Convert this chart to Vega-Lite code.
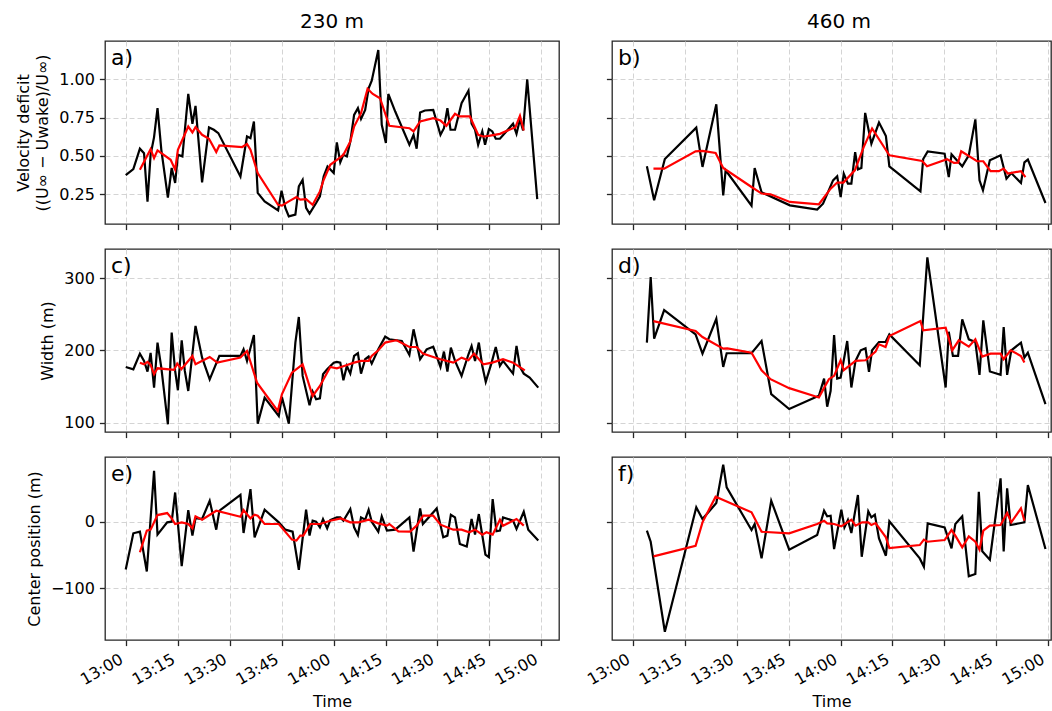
{
"$schema": "https://vega.github.io/schema/vega-lite/v6.json",
"padding": {"left": 15, "top": 12, "right": 0, "bottom": 0},
"background": "white",
"datasets": {
"a_raw": [{"t":779.8,"v":0.374},{"t":782.0,"v":0.413},{"t":783.9,"v":0.546},{"t":785.1,"v":0.517},{"t":786.1,"v":0.200},{"t":787.0,"v":0.507},{"t":788.0,"v":0.622},{"t":789.0,"v":0.811},{"t":790.1,"v":0.539},{"t":792.0,"v":0.226},{"t":793.1,"v":0.420},{"t":794.1,"v":0.322},{"t":794.9,"v":0.507},{"t":796.2,"v":0.496},{"t":797.9,"v":0.904},{"t":799.1,"v":0.709},{"t":800.0,"v":0.826},{"t":801.9,"v":0.326},{"t":803.9,"v":0.685},{"t":805.3,"v":0.670},{"t":806.6,"v":0.648},{"t":813.0,"v":0.365},{"t":814.9,"v":0.626},{"t":815.9,"v":0.615},{"t":816.9,"v":0.724},{"t":818.0,"v":0.257},{"t":820.0,"v":0.202},{"t":823.9,"v":0.143},{"t":824.9,"v":0.272},{"t":826.0,"v":0.159},{"t":827.0,"v":0.104},{"t":828.9,"v":0.115},{"t":829.9,"v":0.300},{"t":831.0,"v":0.343},{"t":832.0,"v":0.159},{"t":833.0,"v":0.122},{"t":834.9,"v":0.191},{"t":836.0,"v":0.235},{"t":837.1,"v":0.365},{"t":838.2,"v":0.430},{"t":840.0,"v":0.387},{"t":840.9,"v":0.587},{"t":841.9,"v":0.457},{"t":842.8,"v":0.507},{"t":843.8,"v":0.496},{"t":844.8,"v":0.593},{"t":845.9,"v":0.767},{"t":847.0,"v":0.811},{"t":847.9,"v":0.741},{"t":849.1,"v":0.800},{"t":850.1,"v":0.941},{"t":851.0,"v":0.991},{"t":852.9,"v":1.191},{"t":853.9,"v":0.702},{"t":855.1,"v":0.583},{"t":855.8,"v":0.904},{"t":857.8,"v":0.789},{"t":861.9,"v":0.572},{"t":863.1,"v":0.637},{"t":864.0,"v":0.546},{"t":865.0,"v":0.783},{"t":866.4,"v":0.796},{"t":868.8,"v":0.800},{"t":870.9,"v":0.637},{"t":871.9,"v":0.680},{"t":872.9,"v":0.811},{"t":873.8,"v":0.670},{"t":875.1,"v":0.670},{"t":877.0,"v":0.843},{"t":879.0,"v":0.926},{"t":879.9,"v":0.709},{"t":880.9,"v":0.670},{"t":881.8,"v":0.572},{"t":883.0,"v":0.659},{"t":883.8,"v":0.572},{"t":884.9,"v":0.674},{"t":885.9,"v":0.659},{"t":886.9,"v":0.611},{"t":888.1,"v":0.611},{"t":891.9,"v":0.709},{"t":892.9,"v":0.643},{"t":893.9,"v":0.739},{"t":894.8,"v":0.665},{"t":896.0,"v":1.000},{"t":898.9,"v":0.217}],
"a_mean": [{"t":783.9,"v":0.409},{"t":787.0,"v":0.543},{"t":788.0,"v":0.485},{"t":789.0,"v":0.535},{"t":792.8,"v":0.474},{"t":794.1,"v":0.409},{"t":794.9,"v":0.539},{"t":797.9,"v":0.691},{"t":799.1,"v":0.652},{"t":800.0,"v":0.687},{"t":801.9,"v":0.637},{"t":803.9,"v":0.611},{"t":806.0,"v":0.524},{"t":806.9,"v":0.567},{"t":813.5,"v":0.557},{"t":814.9,"v":0.576},{"t":815.9,"v":0.539},{"t":818.0,"v":0.387},{"t":823.9,"v":0.180},{"t":825.0,"v":0.174},{"t":827.0,"v":0.202},{"t":829.2,"v":0.230},{"t":830.3,"v":0.213},{"t":832.0,"v":0.217},{"t":833.9,"v":0.180},{"t":836.0,"v":0.267},{"t":837.1,"v":0.343},{"t":839.0,"v":0.441},{"t":841.9,"v":0.489},{"t":842.8,"v":0.507},{"t":844.8,"v":0.593},{"t":845.9,"v":0.691},{"t":847.9,"v":0.778},{"t":849.8,"v":0.937},{"t":851.3,"v":0.904},{"t":853.4,"v":0.876},{"t":856.1,"v":0.696},{"t":861.9,"v":0.680},{"t":863.1,"v":0.659},{"t":865.0,"v":0.724},{"t":868.8,"v":0.746},{"t":870.9,"v":0.730},{"t":872.6,"v":0.696},{"t":875.1,"v":0.774},{"t":876.3,"v":0.757},{"t":879.4,"v":0.757},{"t":881.8,"v":0.637},{"t":883.3,"v":0.626},{"t":884.9,"v":0.630},{"t":888.1,"v":0.643},{"t":892.6,"v":0.687},{"t":893.9,"v":0.761},{"t":895.0,"v":0.665}],
"b_raw": [{"t":783.9,"v":0.431},{"t":786.0,"v":0.209},{"t":789.1,"v":0.479},{"t":798.2,"v":0.684},{"t":800.0,"v":0.427},{"t":804.0,"v":0.836},{"t":806.0,"v":0.241},{"t":806.7,"v":0.405},{"t":814.2,"v":0.174},{"t":815.1,"v":0.420},{"t":817.1,"v":0.261},{"t":825.3,"v":0.176},{"t":833.2,"v":0.148},{"t":834.9,"v":0.187},{"t":837.8,"v":0.339},{"t":839.0,"v":0.366},{"t":840.0,"v":0.230},{"t":840.9,"v":0.383},{"t":842.1,"v":0.318},{"t":843.1,"v":0.318},{"t":844.2,"v":0.523},{"t":845.0,"v":0.411},{"t":846.0,"v":0.420},{"t":847.1,"v":0.780},{"t":848.9,"v":0.579},{"t":851.1,"v":0.717},{"t":853.1,"v":0.629},{"t":854.1,"v":0.431},{"t":863.1,"v":0.267},{"t":863.9,"v":0.479},{"t":865.2,"v":0.529},{"t":870.1,"v":0.514},{"t":871.3,"v":0.361},{"t":872.1,"v":0.510},{"t":875.2,"v":0.431},{"t":877.1,"v":0.503},{"t":879.0,"v":0.738},{"t":880.2,"v":0.339},{"t":881.2,"v":0.274},{"t":883.2,"v":0.470},{"t":886.3,"v":0.503},{"t":888.0,"v":0.350},{"t":889.4,"v":0.387},{"t":892.2,"v":0.322},{"t":893.2,"v":0.457},{"t":894.2,"v":0.475},{"t":899.3,"v":0.191}],
"b_mean": [{"t":785.8,"v":0.416},{"t":788.9,"v":0.416},{"t":798.0,"v":0.529},{"t":800.0,"v":0.532},{"t":803.8,"v":0.518},{"t":806.0,"v":0.420},{"t":814.2,"v":0.296},{"t":817.1,"v":0.253},{"t":819.7,"v":0.248},{"t":825.3,"v":0.198},{"t":833.7,"v":0.183},{"t":837.1,"v":0.285},{"t":839.0,"v":0.325},{"t":840.8,"v":0.325},{"t":844.1,"v":0.405},{"t":846.7,"v":0.558},{"t":849.1,"v":0.678},{"t":854.1,"v":0.503},{"t":863.6,"v":0.466},{"t":865.0,"v":0.431},{"t":870.8,"v":0.477},{"t":872.8,"v":0.453},{"t":874.0,"v":0.455},{"t":874.9,"v":0.529},{"t":879.5,"v":0.464},{"t":881.3,"v":0.464},{"t":883.4,"v":0.399},{"t":885.8,"v":0.399},{"t":887.2,"v":0.416},{"t":888.4,"v":0.384},{"t":892.2,"v":0.399},{"t":893.5,"v":0.360}],
"c_raw": [{"t":779.8,"v":177.1},{"t":782.0,"v":173.9},{"t":783.9,"v":195.6},{"t":785.1,"v":185.5},{"t":786.1,"v":170.7},{"t":787.0,"v":196.5},{"t":788.0,"v":148.5},{"t":789.0,"v":210.9},{"t":790.1,"v":176.2},{"t":792.0,"v":97.7},{"t":793.1,"v":224.7},{"t":794.1,"v":171.6},{"t":794.9,"v":144.8},{"t":796.0,"v":214.1},{"t":796.9,"v":171.6},{"t":797.9,"v":143.9},{"t":800.0,"v":233.9},{"t":801.9,"v":190.1},{"t":804.1,"v":160.0},{"t":806.9,"v":192.4},{"t":813.0,"v":192.4},{"t":813.9,"v":201.6},{"t":814.9,"v":185.5},{"t":816.9,"v":221.5},{"t":818.0,"v":98.6},{"t":820.0,"v":134.6},{"t":824.1,"v":109.2},{"t":825.0,"v":135.6},{"t":827.0,"v":98.6},{"t":828.9,"v":210.9},{"t":829.9,"v":246.4},{"t":831.0,"v":164.7},{"t":833.0,"v":124.0},{"t":833.9,"v":142.9},{"t":834.9,"v":132.3},{"t":836.0,"v":133.7},{"t":836.9,"v":167.0},{"t":838.1,"v":173.9},{"t":840.0,"v":183.1},{"t":840.9,"v":184.1},{"t":841.9,"v":183.1},{"t":842.8,"v":158.7},{"t":843.8,"v":178.5},{"t":844.8,"v":167.9},{"t":845.9,"v":192.4},{"t":847.0,"v":196.1},{"t":847.9,"v":167.9},{"t":849.1,"v":187.8},{"t":850.1,"v":191.5},{"t":851.0,"v":181.8},{"t":852.9,"v":201.6},{"t":854.9,"v":219.2},{"t":856.1,"v":215.5},{"t":859.7,"v":213.2},{"t":861.9,"v":193.8},{"t":863.1,"v":229.3},{"t":865.0,"v":187.8},{"t":866.9,"v":201.6},{"t":868.8,"v":205.3},{"t":870.9,"v":177.1},{"t":871.9,"v":198.4},{"t":872.9,"v":170.7},{"t":873.9,"v":203.9},{"t":875.1,"v":185.5},{"t":877.0,"v":164.7},{"t":879.0,"v":194.7},{"t":879.9,"v":206.2},{"t":880.9,"v":185.5},{"t":882.0,"v":210.9},{"t":883.0,"v":178.5},{"t":884.0,"v":156.4},{"t":885.7,"v":183.1},{"t":886.9,"v":204.8},{"t":888.1,"v":178.5},{"t":889.0,"v":185.5},{"t":891.9,"v":167.9},{"t":892.9,"v":206.2},{"t":893.9,"v":177.1},{"t":895.0,"v":167.9},{"t":896.7,"v":162.4},{"t":899.2,"v":148.5}],
"c_mean": [{"t":783.9,"v":183.1},{"t":785.1,"v":180.8},{"t":786.1,"v":184.1},{"t":787.0,"v":179.9},{"t":788.0,"v":167.0},{"t":789.0,"v":175.3},{"t":793.8,"v":173.0},{"t":794.7,"v":181.8},{"t":795.9,"v":173.9},{"t":799.1,"v":192.4},{"t":800.0,"v":180.8},{"t":804.1,"v":191.0},{"t":806.3,"v":183.1},{"t":813.0,"v":190.1},{"t":814.9,"v":199.3},{"t":817.8,"v":155.4},{"t":823.8,"v":116.2},{"t":825.0,"v":139.3},{"t":827.9,"v":169.3},{"t":831.0,"v":180.8},{"t":833.9,"v":136.9},{"t":836.0,"v":150.8},{"t":839.0,"v":177.1},{"t":840.9,"v":175.3},{"t":843.0,"v":178.5},{"t":845.9,"v":183.1},{"t":847.9,"v":185.5},{"t":850.1,"v":185.5},{"t":851.0,"v":192.4},{"t":852.9,"v":200.2},{"t":854.9,"v":210.9},{"t":856.1,"v":212.2},{"t":858.2,"v":214.1},{"t":861.9,"v":204.8},{"t":864.0,"v":204.8},{"t":865.8,"v":195.6},{"t":868.8,"v":191.0},{"t":870.9,"v":187.8},{"t":874.6,"v":183.1},{"t":877.0,"v":190.1},{"t":879.0,"v":186.4},{"t":880.6,"v":195.6},{"t":883.3,"v":180.8},{"t":885.9,"v":183.1},{"t":889.0,"v":187.8},{"t":891.9,"v":183.1},{"t":895.3,"v":172.5}],
"d_raw": [{"t":783.9,"v":210.8},{"t":785.0,"v":301.8},{"t":786.0,"v":216.3},{"t":788.9,"v":255.9},{"t":798.0,"v":222.3},{"t":800.0,"v":195.6},{"t":804.0,"v":243.9},{"t":806.0,"v":177.2},{"t":807.0,"v":196.1},{"t":814.2,"v":196.1},{"t":817.1,"v":213.1},{"t":819.9,"v":139.5},{"t":825.1,"v":118.8},{"t":833.7,"v":137.2},{"t":835.2,"v":161.1},{"t":836.1,"v":122.0},{"t":837.1,"v":144.1},{"t":838.1,"v":221.4},{"t":839.0,"v":161.1},{"t":840.0,"v":162.5},{"t":841.9,"v":213.1},{"t":843.1,"v":148.7},{"t":844.3,"v":185.5},{"t":845.8,"v":200.2},{"t":847.2,"v":203.0},{"t":848.2,"v":170.3},{"t":849.1,"v":200.2},{"t":851.1,"v":211.7},{"t":853.0,"v":211.7},{"t":854.1,"v":222.3},{"t":862.9,"v":179.5},{"t":865.1,"v":329.0},{"t":870.4,"v":148.7},{"t":871.3,"v":226.0},{"t":872.5,"v":192.4},{"t":874.0,"v":192.4},{"t":875.2,"v":243.0},{"t":877.1,"v":215.4},{"t":879.0,"v":211.7},{"t":880.2,"v":166.2},{"t":881.3,"v":241.6},{"t":883.2,"v":170.8},{"t":886.3,"v":166.2},{"t":887.2,"v":232.4},{"t":888.2,"v":166.2},{"t":889.4,"v":200.2},{"t":892.2,"v":210.8},{"t":893.2,"v":190.1},{"t":894.2,"v":197.0},{"t":899.3,"v":125.7}],
"d_mean": [{"t":785.8,"v":240.7},{"t":798.0,"v":226.9},{"t":800.0,"v":218.6},{"t":806.0,"v":202.5},{"t":807.2,"v":203.0},{"t":814.2,"v":197.0},{"t":817.1,"v":172.6},{"t":819.7,"v":160.2},{"t":825.1,"v":147.8},{"t":833.7,"v":134.9},{"t":835.0,"v":146.4},{"t":836.6,"v":160.2},{"t":838.1,"v":164.8},{"t":840.0,"v":186.4},{"t":840.9,"v":172.6},{"t":844.3,"v":185.5},{"t":847.2,"v":186.4},{"t":850.1,"v":198.4},{"t":851.1,"v":208.5},{"t":853.0,"v":204.8},{"t":854.1,"v":220.0},{"t":863.1,"v":240.7},{"t":863.9,"v":227.8},{"t":870.4,"v":231.5},{"t":872.3,"v":200.2},{"t":874.2,"v":214.0},{"t":877.1,"v":205.3},{"t":879.0,"v":215.4},{"t":881.0,"v":191.5},{"t":883.4,"v":195.6},{"t":886.3,"v":195.6},{"t":887.2,"v":187.8},{"t":889.2,"v":200.2},{"t":892.2,"v":192.4},{"t":893.2,"v":183.2}],
"e_raw": [{"t":779.8,"v":-72},{"t":782.0,"v":-17.5},{"t":783.9,"v":-15},{"t":785.9,"v":-75},{"t":788.0,"v":76.5},{"t":789.0,"v":-19.5},{"t":791.8,"v":-1},{"t":793.1,"v":0},{"t":794.1,"v":44},{"t":796.0,"v":-67},{"t":797.9,"v":17.5},{"t":799.1,"v":-21},{"t":800.0,"v":5.5},{"t":801.9,"v":4},{"t":804.1,"v":31.5},{"t":806.0,"v":-12},{"t":806.9,"v":16.5},{"t":813.0,"v":40.5},{"t":813.9,"v":-17},{"t":815.9,"v":49},{"t":817.1,"v":-23.5},{"t":820.0,"v":18},{"t":824.1,"v":-1},{"t":826.0,"v":-12},{"t":828.1,"v":-15},{"t":829.9,"v":-72.5},{"t":832.0,"v":18},{"t":833.0,"v":-21},{"t":833.9,"v":1.5},{"t":834.9,"v":0},{"t":836.0,"v":-8.5},{"t":836.9,"v":4},{"t":838.1,"v":-10},{"t":839.0,"v":2.5},{"t":840.9,"v":6.5},{"t":841.9,"v":6.5},{"t":842.8,"v":1.5},{"t":844.8,"v":19},{"t":845.9,"v":-8.5},{"t":847.0,"v":-20},{"t":847.9,"v":6.5},{"t":849.1,"v":3},{"t":850.1,"v":18},{"t":851.0,"v":0},{"t":852.9,"v":-15},{"t":853.9,"v":8},{"t":855.4,"v":-13.5},{"t":857.8,"v":-12},{"t":861.9,"v":6.5},{"t":863.1,"v":-45},{"t":865.0,"v":20},{"t":865.8,"v":-3.5},{"t":869.8,"v":20},{"t":871.7,"v":-23.5},{"t":872.9,"v":-21},{"t":873.9,"v":10.5},{"t":875.1,"v":6.5},{"t":876.5,"v":-33.5},{"t":878.5,"v":-37.5},{"t":879.9,"v":4},{"t":880.9,"v":-19.5},{"t":882.0,"v":11.5},{"t":883.9,"v":-49.5},{"t":884.9,"v":-53.5},{"t":886.0,"v":34},{"t":887.1,"v":-14.5},{"t":888.1,"v":-13.5},{"t":889.0,"v":6.5},{"t":891.9,"v":1.5},{"t":892.9,"v":-11},{"t":895.0,"v":15},{"t":896.3,"v":-12},{"t":899.2,"v":-28.5}],
"e_mean": [{"t":783.9,"v":-46},{"t":785.9,"v":-13.5},{"t":787.0,"v":-12},{"t":789.0,"v":10},{"t":791.8,"v":13},{"t":793.1,"v":5},{"t":794.1,"v":-3.5},{"t":796.0,"v":-1},{"t":797.9,"v":-3.5},{"t":799.1,"v":-10},{"t":800.0,"v":8},{"t":801.9,"v":3},{"t":806.0,"v":16.5},{"t":813.0,"v":7.5},{"t":813.9,"v":17.5},{"t":815.9,"v":5},{"t":817.1,"v":10.5},{"t":818.0,"v":9},{"t":820.0,"v":-3.5},{"t":824.1,"v":-3.5},{"t":827.9,"v":-27},{"t":829.2,"v":-28.5},{"t":830.3,"v":-21},{"t":831.2,"v":-21},{"t":833.2,"v":-3.5},{"t":836.0,"v":-3.5},{"t":839.0,"v":1.5},{"t":842.1,"v":5},{"t":844.8,"v":-1},{"t":847.2,"v":-1},{"t":850.1,"v":3},{"t":852.9,"v":-2.5},{"t":855.4,"v":-6},{"t":856.1,"v":-3.5},{"t":858.7,"v":-14.5},{"t":862.1,"v":-15},{"t":864.0,"v":-6},{"t":865.9,"v":9},{"t":868.8,"v":9},{"t":870.9,"v":-4.5},{"t":874.6,"v":-12},{"t":877.0,"v":-12},{"t":879.2,"v":-16},{"t":880.9,"v":-12},{"t":883.0,"v":-19.5},{"t":884.2,"v":-16},{"t":886.0,"v":-19.5},{"t":888.1,"v":3},{"t":889.0,"v":-6},{"t":892.9,"v":4},{"t":895.0,"v":-6}],
"f_raw": [{"t":783.9,"v":-13.6},{"t":785.0,"v":-30.2},{"t":789.1,"v":-165.8},{"t":798.2,"v":21.6},{"t":800.0,"v":4.0},{"t":804.0,"v":28.1},{"t":806.0,"v":85.9},{"t":807.0,"v":51.8},{"t":814.2,"v":-12.6},{"t":815.1,"v":-3.5},{"t":817.1,"v":-55.3},{"t":819.9,"v":31.7},{"t":825.1,"v":-42.2},{"t":833.2,"v":-20.1},{"t":835.2,"v":16.6},{"t":836.1,"v":8.0},{"t":837.1,"v":9.0},{"t":838.1,"v":-41.2},{"t":840.2,"v":18.1},{"t":841.1,"v":-8.5},{"t":842.1,"v":2.5},{"t":843.1,"v":-17.1},{"t":845.0,"v":40.2},{"t":846.1,"v":-52.8},{"t":848.0,"v":15.6},{"t":848.9,"v":6.5},{"t":849.9,"v":10.6},{"t":851.1,"v":-25.1},{"t":853.1,"v":-51.3},{"t":854.1,"v":0.5},{"t":862.9,"v":-55.3},{"t":864.1,"v":-67.8},{"t":865.2,"v":-2.5},{"t":870.1,"v":-8.5},{"t":872.1,"v":-40.2},{"t":873.2,"v":-3.5},{"t":875.2,"v":8.0},{"t":877.1,"v":-82.4},{"t":879.0,"v":-78.9},{"t":880.0,"v":45.2},{"t":881.0,"v":-44.7},{"t":883.2,"v":-57.3},{"t":886.3,"v":65.3},{"t":887.2,"v":-44.7},{"t":888.2,"v":50.3},{"t":889.2,"v":-5.0},{"t":892.2,"v":-2.0},{"t":893.2,"v":-1.0},{"t":894.2,"v":55.3},{"t":899.3,"v":-41.2}],
"f_mean": [{"t":785.8,"v":-52.3},{"t":798.0,"v":-36.2},{"t":800.0,"v":-1.0},{"t":803.8,"v":37.7},{"t":806.0,"v":32.7},{"t":814.2,"v":14.1},{"t":817.1,"v":-15.1},{"t":825.1,"v":-17.6},{"t":833.2,"v":-3.5},{"t":835.2,"v":1.5},{"t":836.1,"v":-2.5},{"t":838.1,"v":-3.5},{"t":840.2,"v":-7.0},{"t":841.9,"v":-1.0},{"t":843.1,"v":3.0},{"t":844.3,"v":-6.0},{"t":846.2,"v":-1.0},{"t":848.0,"v":-1.0},{"t":848.9,"v":-5.0},{"t":850.1,"v":-2.0},{"t":853.1,"v":-23.6},{"t":854.1,"v":-39.7},{"t":862.9,"v":-35.2},{"t":864.1,"v":-27.1},{"t":865.1,"v":-30.2},{"t":870.1,"v":-27.6},{"t":872.1,"v":-12.6},{"t":873.2,"v":-21.1},{"t":875.2,"v":-38.7},{"t":877.1,"v":-22.1},{"t":879.0,"v":-30.2},{"t":880.2,"v":-42.2},{"t":881.3,"v":-13.6},{"t":883.2,"v":-6.0},{"t":886.3,"v":-5.0},{"t":888.2,"v":13.1},{"t":889.4,"v":-1.0},{"t":892.2,"v":20.1},{"t":893.2,"v":1.5}]
},
"hconcat": [
{"title": {"text": "230 m", "anchor": "middle", "frame": "group", "offset": -8, "dx": 227, "baseline": "alphabetic"},
 "spacing": 17,
 "vconcat": [
  {"width": 454, "height": 183, "layer": [
   {"data": {"name": "a_raw"}, "mark": {"type": "line", "color": "#000000", "strokeWidth": 2.2},
    "encoding": {"x": {"field": "t", "type": "quantitative", "scale": {"domain": [773.8, 905.2], "nice": false, "zero": false}, "axis": {"values": [780,795,810,825,840,855,870,885,900], "labels": false, "title": null}},
                 "y": {"field": "v", "type": "quantitative", "scale": {"domain": [0.054, 1.25], "nice": false, "zero": false}, "axis": {"values": [0.25,0.5,0.75,1.0], "format": ".2f", "title": ["Velocity deficit", "((U∞ − Uwake)/U∞)"]}}}},
   {"data": {"name": "a_mean"}, "mark": {"type": "line", "color": "#ff0000", "strokeWidth": 2.2},
    "encoding": {"x": {"field": "t", "type": "quantitative", "scale": {"domain": [773.8, 905.2], "nice": false, "zero": false}, "axis": {"values": [780,795,810,825,840,855,870,885,900], "labels": false, "title": null}},
                 "y": {"field": "v", "type": "quantitative", "scale": {"domain": [0.054, 1.25], "nice": false, "zero": false}, "axis": {"values": [0.25,0.5,0.75,1.0], "format": ".2f", "title": ["Velocity deficit", "((U∞ − Uwake)/U∞)"]}}}},
   {"data": {"values": [{"label": "a)"}]}, "mark": {"type": "text", "align": "left", "baseline": "alphabetic", "dx": 6, "dy": 24, "fontSize": 22, "color": "#000000"},
    "encoding": {"text": {"field": "label"}, "x": {"datum": 773.8, "type": "quantitative"}, "y": {"datum": 1.25, "type": "quantitative"}}}
  ]},
  {"width": 454, "height": 183, "layer": [
   {"data": {"name": "c_raw"}, "mark": {"type": "line", "color": "#000000", "strokeWidth": 2.2},
    "encoding": {"x": {"field": "t", "type": "quantitative", "scale": {"domain": [773.8, 905.2], "nice": false, "zero": false}, "axis": {"values": [780,795,810,825,840,855,870,885,900], "labels": false, "title": null}},
                 "y": {"field": "v", "type": "quantitative", "scale": {"domain": [87, 340.6], "nice": false, "zero": false}, "axis": {"values": [100,200,300], "title": "Width (m)"}}}},
   {"data": {"name": "c_mean"}, "mark": {"type": "line", "color": "#ff0000", "strokeWidth": 2.2},
    "encoding": {"x": {"field": "t", "type": "quantitative", "scale": {"domain": [773.8, 905.2], "nice": false, "zero": false}, "axis": {"values": [780,795,810,825,840,855,870,885,900], "labels": false, "title": null}},
                 "y": {"field": "v", "type": "quantitative", "scale": {"domain": [87, 340.6], "nice": false, "zero": false}, "axis": {"values": [100,200,300], "title": "Width (m)"}}}},
   {"data": {"values": [{"label": "c)"}]}, "mark": {"type": "text", "align": "left", "baseline": "alphabetic", "dx": 6, "dy": 24, "fontSize": 22, "color": "#000000"},
    "encoding": {"text": {"field": "label"}, "x": {"datum": 773.8, "type": "quantitative"}, "y": {"datum": 340.6, "type": "quantitative"}}}
  ]},
  {"width": 454, "height": 183, "layer": [
   {"data": {"name": "e_raw"}, "mark": {"type": "line", "color": "#000000", "strokeWidth": 2.2},
    "encoding": {"x": {"field": "t", "type": "quantitative", "scale": {"domain": [773.8, 905.2], "nice": false, "zero": false}, "axis": {"values": [780,795,810,825,840,855,870,885,900], "labelExpr": "floor(datum.value/60) + ':' + (datum.value % 60 == 0 ? '00' : datum.value % 60)", "labelAngle": -30, "labelAlign": "right", "labelBaseline": "top", "labelOffset": -9, "titlePadding": 6, "title": "Time"}},
                 "y": {"field": "v", "type": "quantitative", "scale": {"domain": [-178.3, 97.5], "nice": false, "zero": false}, "axis": {"values": [-100, 0], "title": "Center position (m)"}}}},
   {"data": {"name": "e_mean"}, "mark": {"type": "line", "color": "#ff0000", "strokeWidth": 2.2},
    "encoding": {"x": {"field": "t", "type": "quantitative", "scale": {"domain": [773.8, 905.2], "nice": false, "zero": false}, "axis": {"values": [780,795,810,825,840,855,870,885,900], "labelExpr": "floor(datum.value/60) + ':' + (datum.value % 60 == 0 ? '00' : datum.value % 60)", "labelAngle": -30, "labelAlign": "right", "labelBaseline": "top", "labelOffset": -9, "titlePadding": 6, "title": "Time"}},
                 "y": {"field": "v", "type": "quantitative", "scale": {"domain": [-178.3, 97.5], "nice": false, "zero": false}, "axis": {"values": [-100, 0], "title": "Center position (m)"}}}},
   {"data": {"values": [{"label": "e)"}]}, "mark": {"type": "text", "align": "left", "baseline": "alphabetic", "dx": 6, "dy": 24, "fontSize": 22, "color": "#000000"},
    "encoding": {"text": {"field": "label"}, "x": {"datum": 773.8, "type": "quantitative"}, "y": {"datum": 97.5, "type": "quantitative"}}}
  ]}
 ]},
{"title": {"text": "460 m", "anchor": "middle", "frame": "group", "offset": -8, "dx": 227, "baseline": "alphabetic"},
 "spacing": 17,
 "vconcat": [
  {"width": 439, "height": 183, "layer": [
   {"data": {"name": "b_raw"}, "mark": {"type": "line", "color": "#000000", "strokeWidth": 2.2},
    "encoding": {"x": {"field": "t", "type": "quantitative", "scale": {"domain": [773.8, 900.9], "nice": false, "zero": false}, "axis": {"values": [780,795,810,825,840,855,870,885,900], "labels": false, "title": null}},
                 "y": {"field": "v", "type": "quantitative", "scale": {"domain": [0.054, 1.25], "nice": false, "zero": false}, "axis": {"values": [0.25,0.5,0.75,1.0], "labels": false, "title": null}}}},
   {"data": {"name": "b_mean"}, "mark": {"type": "line", "color": "#ff0000", "strokeWidth": 2.2},
    "encoding": {"x": {"field": "t", "type": "quantitative", "scale": {"domain": [773.8, 900.9], "nice": false, "zero": false}, "axis": {"values": [780,795,810,825,840,855,870,885,900], "labels": false, "title": null}},
                 "y": {"field": "v", "type": "quantitative", "scale": {"domain": [0.054, 1.25], "nice": false, "zero": false}, "axis": {"values": [0.25,0.5,0.75,1.0], "labels": false, "title": null}}}},
   {"data": {"values": [{"label": "b)"}]}, "mark": {"type": "text", "align": "left", "baseline": "alphabetic", "dx": 6, "dy": 24, "fontSize": 22, "color": "#000000"},
    "encoding": {"text": {"field": "label"}, "x": {"datum": 773.8, "type": "quantitative"}, "y": {"datum": 1.25, "type": "quantitative"}}}
  ]},
  {"width": 439, "height": 183, "layer": [
   {"data": {"name": "d_raw"}, "mark": {"type": "line", "color": "#000000", "strokeWidth": 2.2},
    "encoding": {"x": {"field": "t", "type": "quantitative", "scale": {"domain": [773.8, 900.9], "nice": false, "zero": false}, "axis": {"values": [780,795,810,825,840,855,870,885,900], "labels": false, "title": null}},
                 "y": {"field": "v", "type": "quantitative", "scale": {"domain": [87, 340.6], "nice": false, "zero": false}, "axis": {"values": [100,200,300], "labels": false, "title": null}}}},
   {"data": {"name": "d_mean"}, "mark": {"type": "line", "color": "#ff0000", "strokeWidth": 2.2},
    "encoding": {"x": {"field": "t", "type": "quantitative", "scale": {"domain": [773.8, 900.9], "nice": false, "zero": false}, "axis": {"values": [780,795,810,825,840,855,870,885,900], "labels": false, "title": null}},
                 "y": {"field": "v", "type": "quantitative", "scale": {"domain": [87, 340.6], "nice": false, "zero": false}, "axis": {"values": [100,200,300], "labels": false, "title": null}}}},
   {"data": {"values": [{"label": "d)"}]}, "mark": {"type": "text", "align": "left", "baseline": "alphabetic", "dx": 6, "dy": 24, "fontSize": 22, "color": "#000000"},
    "encoding": {"text": {"field": "label"}, "x": {"datum": 773.8, "type": "quantitative"}, "y": {"datum": 340.6, "type": "quantitative"}}}
  ]},
  {"width": 439, "height": 183, "layer": [
   {"data": {"name": "f_raw"}, "mark": {"type": "line", "color": "#000000", "strokeWidth": 2.2},
    "encoding": {"x": {"field": "t", "type": "quantitative", "scale": {"domain": [773.8, 900.9], "nice": false, "zero": false}, "axis": {"values": [780,795,810,825,840,855,870,885,900], "labelExpr": "floor(datum.value/60) + ':' + (datum.value % 60 == 0 ? '00' : datum.value % 60)", "labelAngle": -30, "labelAlign": "right", "labelBaseline": "top", "labelOffset": -9, "titlePadding": 6, "title": "Time"}},
                 "y": {"field": "v", "type": "quantitative", "scale": {"domain": [-178.3, 97.5], "nice": false, "zero": false}, "axis": {"values": [-100, 0], "labels": false, "title": null}}}},
   {"data": {"name": "f_mean"}, "mark": {"type": "line", "color": "#ff0000", "strokeWidth": 2.2},
    "encoding": {"x": {"field": "t", "type": "quantitative", "scale": {"domain": [773.8, 900.9], "nice": false, "zero": false}, "axis": {"values": [780,795,810,825,840,855,870,885,900], "labelExpr": "floor(datum.value/60) + ':' + (datum.value % 60 == 0 ? '00' : datum.value % 60)", "labelAngle": -30, "labelAlign": "right", "labelBaseline": "top", "labelOffset": -9, "titlePadding": 6, "title": "Time"}},
                 "y": {"field": "v", "type": "quantitative", "scale": {"domain": [-178.3, 97.5], "nice": false, "zero": false}, "axis": {"values": [-100, 0], "labels": false, "title": null}}}},
   {"data": {"values": [{"label": "f)"}]}, "mark": {"type": "text", "align": "left", "baseline": "alphabetic", "dx": 6, "dy": 24, "fontSize": 22, "color": "#000000"},
    "encoding": {"text": {"field": "label"}, "x": {"datum": 773.8, "type": "quantitative"}, "y": {"datum": 97.5, "type": "quantitative"}}}
  ]}
 ]}
],
"spacing": 23,
"config": {
 "font": "DejaVu Sans",
 "view": {"stroke": "#262626", "strokeWidth": 1.3},
 "axis": {"domain": false, "grid": true, "gridColor": "#d4d4d4", "gridDash": [5, 3], "gridWidth": 1, "tickColor": "#262626", "tickSize": 5.6, "tickWidth": 1.3, "labelFont": "DejaVu Sans", "labelFontSize": 16, "labelColor": "#000000", "labelPadding": 5, "labelOverlap": false, "labelFlush": false, "titleFont": "DejaVu Sans", "titleFontSize": 16, "titleFontWeight": "normal", "titleColor": "#000000", "titlePadding": 8, "titleLineHeight": 19},
 "title": {"font": "DejaVu Sans", "fontSize": 20, "fontWeight": "normal", "color": "#000000"}
}
}
